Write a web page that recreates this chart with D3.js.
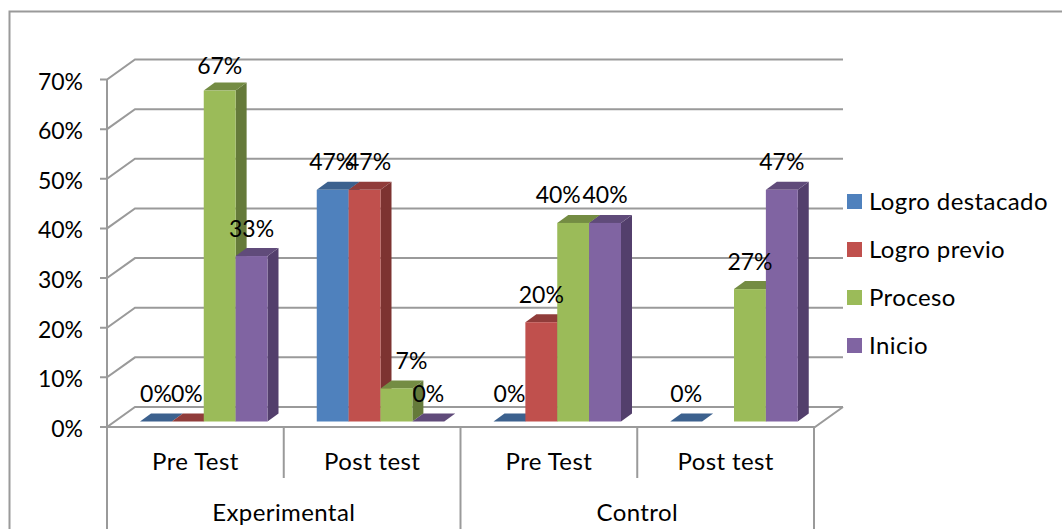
<!DOCTYPE html>
<html>
<head>
<meta charset="utf-8">
<script src="https://cdn.jsdelivr.net/npm/d3@7"></script>
<style>
  html, body { margin: 0; background: #fff; }
  text { font-family: Lato, "Open Sans", sans-serif; fill: #000; }
  .cat, .group, .legend text { letter-spacing: 0.4px; }
</style>
</head>
<body>
<svg id="chart" width="1062" height="529" style="display:block"></svg>
<script>
// Chart data, the labels show these rounded
const groups = ['Experimental', 'Control'];
const categories = ['Pre Test', 'Post test', 'Pre Test', 'Post test'];
const seriesNames = ['Logro destacado', 'Logro previo', 'Proceso', 'Inicio'];
const logroDestacado = [0, 46.67, 0, 0];
const logroPrevio = [0, 46.67, 20, null];
const proceso = [66.67, 6.67, 40, 26.67];
const inicio = [33.33, 0, 40, 46.67];
const yTicks = [0, 10, 20, 30, 40, 50, 60, 70];

const seriesValues = [logroDestacado, logroPrevio, proceso, inicio];
const frontColors = ['#4f81bd', '#c0504d', '#9bbb59', '#8064a2'];
const topColors = ['#3c618e', '#903c3a', '#748c43', '#604b7a'];
const sideColors = ['#2f4c70', '#7d3331', '#657a3a', '#533f6c'];
const gridColor = '#9a9a9a';

const svg = d3.select('#chart');

// Outer frame, cut off by the page on the right and bottom
svg.append('path')
    .attr('d', 'M9.5,529V11.5H1062')
    .attr('fill', 'none')
    .attr('stroke', gridColor)
    .attr('stroke-width', 2);

// Scales
const x = d3.scaleBand().domain(d3.range(categories.length)).range([107, 814]);
const xSeries = d3.scaleBand().domain(d3.range(seriesNames.length))
    .range([33, 33 + 127.5]);
const y = d3.scaleLinear().domain([0, 70]).range([427, 79.5]);

// Depth of the back wall, and of the bars
const wallDx = 28, wallDy = -20;
const barDx = 11, barDy = -8;
const barBase = 421.5 - y(0);

// Walls and gridlines
const grid = svg.append('g')
    .attr('fill', 'none')
    .attr('stroke', gridColor)
    .attr('stroke-width', 2);

grid.selectAll('path.gridline')
    .data(yTicks)
    .join('path')
    .attr('class', 'gridline')
    .attr('d', d => `M100,${y(d)}H107L${107 + wallDx},${y(d) + wallDy}H${815 + wallDx}`);

// Side wall and floor front edge
grid.append('path').attr('d', `M107,${y(70)}V529`);
grid.append('path').attr('d', `M107,${y(0)}H815L${815 + wallDx},${y(0) + wallDy}`);

// Category separators, short inside a group and long between groups
grid.selectAll('line.sep')
    .data(d3.range(1, categories.length + 1))
    .join('line')
    .attr('class', 'sep')
    .attr('x1', d => x(0) + d * x.bandwidth())
    .attr('x2', d => x(0) + d * x.bandwidth())
    .attr('y1', y(0))
    .attr('y2', d => d % 2 === 0 ? 529 : 478);

// Y axis labels
svg.selectAll('text.ytick')
    .data(yTicks)
    .join('text')
    .attr('class', 'ytick')
    .attr('x', 83)
    .attr('y', d => y(d) + 10)
    .attr('text-anchor', 'end')
    .attr('font-size', 23)
    .text(d => d + '%');

// Bars, drawn one category and series at a time so they overlap correctly
const bars = [];
categories.forEach((c, i) => {
    seriesNames.forEach((s, j) => {
        if (seriesValues[j][i] !== null) bars.push({ i, j, value: seriesValues[j][i] });
    });
});

const bar = svg.selectAll('g.bar')
    .data(bars)
    .join('g')
    .attr('class', 'bar');

const barLeft = d => x(d.i) + xSeries(d.j);
const barRight = d => barLeft(d) + xSeries.bandwidth();
const barTop = d => y(d.value) + barBase;
const barBottom = y(0) + barBase;

bar.append('path')
    .attr('fill', d => sideColors[d.j])
    .attr('d', d => `M${barRight(d)},${barTop(d)}l${barDx},${barDy}V${barBottom + barDy}L${barRight(d)},${barBottom}Z`);
bar.append('path')
    .attr('fill', d => topColors[d.j])
    .attr('d', d => `M${barLeft(d)},${barTop(d)}l${barDx},${barDy}H${barRight(d) + barDx}L${barRight(d)},${barTop(d)}Z`);
bar.append('rect')
    .attr('fill', d => frontColors[d.j])
    .attr('x', barLeft)
    .attr('y', barTop)
    .attr('width', xSeries.bandwidth())
    .attr('height', d => barBottom - barTop(d));

// Value labels, a few were moved by hand in the original
const nudge = { '1-2': 15, '2-2': -15, '1-1': 4, '1-0': -1, '0-1': -1 };
svg.selectAll('text.value')
    .data(bars)
    .join('text')
    .attr('class', 'value')
    .attr('x', d => (barLeft(d) + barRight(d)) / 2 + (nudge[d.i + '-' + d.j] || 0))
    .attr('y', d => Math.max(74, barTop(d) - 19.5))
    .attr('text-anchor', 'middle')
    .attr('font-size', 23)
    .text(d => Math.round(d.value) + '%');

// Category labels
svg.selectAll('text.cat')
    .data(categories)
    .join('text')
    .attr('class', 'cat')
    .attr('x', (d, i) => x(i) + x.bandwidth() / 2)
    .attr('y', 470)
    .attr('text-anchor', 'middle')
    .attr('font-size', 24)
    .text(d => d);

svg.selectAll('text.group')
    .data(groups)
    .join('text')
    .attr('class', 'group')
    .attr('x', (d, i) => x(i * 2) + x.bandwidth())
    .attr('y', 520.5)
    .attr('text-anchor', 'middle')
    .attr('font-size', 24)
    .text(d => d);

// Legend
const legend = svg.selectAll('g.legend')
    .data(seriesNames)
    .join('g')
    .attr('class', 'legend')
    .attr('transform', (d, i) => `translate(847,${194 + i * 48})`);

legend.append('rect')
    .attr('width', 15)
    .attr('height', 15)
    .attr('fill', (d, i) => frontColors[i]);

legend.append('text')
    .attr('x', 22)
    .attr('y', 15.5)
    .attr('font-size', 24)
    .text(d => d);
</script>
</body>
</html>
